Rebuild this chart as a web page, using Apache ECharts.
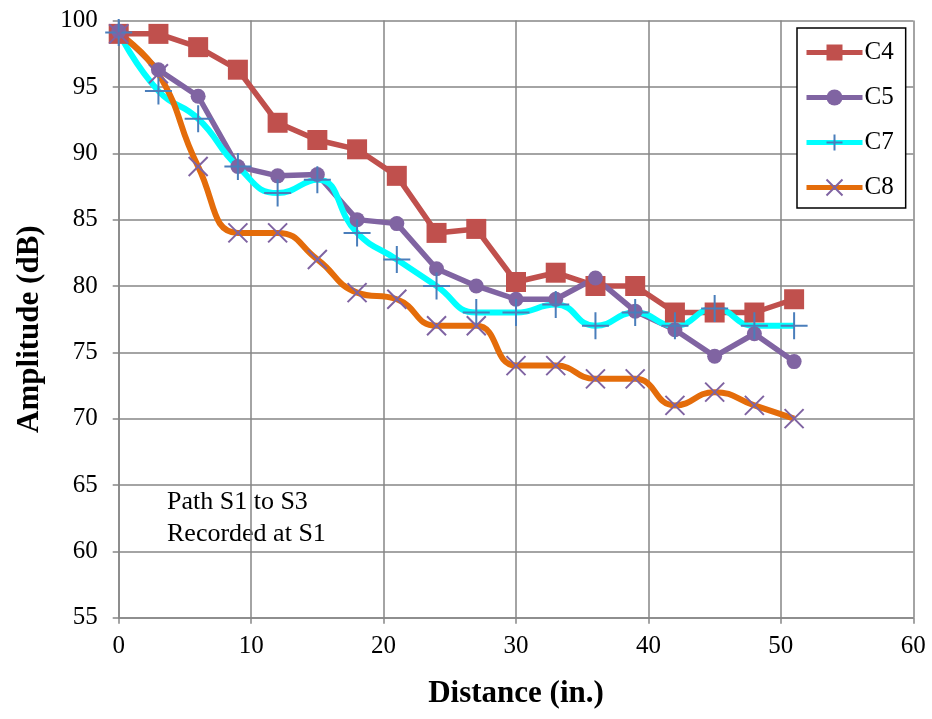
<!DOCTYPE html>
<html>
<head>
<meta charset="utf-8">
<script src="https://cdn.jsdelivr.net/npm/echarts@6/dist/echarts.min.js"></script>
<style>
  html, body { margin: 0; padding: 0; background: #fff; }
  #chart { width: 932px; height: 719px; }
</style>
</head>
<body>
<div id="chart"></div>
<script>
// distance along the path (in.)
var distance = [0, 3, 6, 9, 12, 15, 18, 21, 24, 27, 30, 33, 36, 39, 42, 45, 48, 51]

// amplitude readings (dB)
var c4 = [99, 99, 98, 96.3, 92.3, 91, 90.3, 88.3, 84, 84.3, 80.3, 81, 80, 80, 78, 78, 78, 79]
var c5 = [99.2, 96.3, 94.3, 89, 88.3, 88.4, 85, 84.7, 81.3, 80, 79, 79, 80.6, 78.1, 76.7, 74.7, 76.4, 74.3]
var c7 = [99.1, 94.7, 92.6, 89, 87, 88, 84, 82, 80, 78, 78, 78.6, 77, 78, 77, 78.3, 77, 77]
var c8 = [99, 96, 89, 84, 84, 82, 79.5, 79, 77, 77, 74, 74, 73, 73, 71, 72, 71, 70]

var xTicks = { min: 0, max: 60, interval: 10 }
var yTicks = { min: 55, max: 100, interval: 5 }

function pairs (ys) {
  return distance.map(function (d, i) { return [d, ys[i]] })
}

var gray = '#868686'
var font = '"Liberation Serif", "Times New Roman", serif'

var chart = echarts.init(document.getElementById('chart'))

var option = {
  animation: false,
  backgroundColor: '#fff',
  textStyle: { fontFamily: font, color: '#000' },
  grid: { left: 118.7, right: 18.7, top: 20.6, bottom: 101.3, containLabel: false },
  xAxis: {
    type: 'value',
    min: xTicks.min,
    max: xTicks.max,
    interval: xTicks.interval,
    name: 'Distance (in.)',
    nameLocation: 'middle',
    nameGap: 61,
    nameTextStyle: { fontFamily: font, fontWeight: 'bold', fontSize: 31, color: '#000' },
    axisLine: { lineStyle: { color: gray, width: 1.5 } },
    axisTick: { show: true, length: 6, lineStyle: { color: gray, width: 1.5 } },
    axisLabel: { fontFamily: font, fontSize: 25, color: '#000', margin: 16 },
    splitLine: { show: true, lineStyle: { color: gray, width: 1.5 } }
  },
  yAxis: {
    type: 'value',
    min: yTicks.min,
    max: yTicks.max,
    interval: yTicks.interval,
    name: 'Amplitude (dB)',
    nameLocation: 'middle',
    nameGap: 73,
    nameRotate: 90,
    // nudge title a bit below the plot's middle, as in the original
    nameTextStyle: { fontFamily: font, fontWeight: 'bold', fontSize: 31, color: '#000', padding: [0, 20, 0, 0] },
    axisLine: { show: true, lineStyle: { color: gray, width: 1.5 } },
    axisTick: { show: true, length: 6, lineStyle: { color: gray, width: 1.5 } },
    axisLabel: { fontFamily: font, fontSize: 25, color: '#000', margin: 21 },
    splitLine: { show: true, lineStyle: { color: gray, width: 1.5 } }
  },
  legend: {
    orient: 'vertical',
    left: 797,
    top: 28,
    backgroundColor: '#fff',
    borderColor: '#000',
    borderWidth: 1.5,
    padding: [12, 12, 8, 7],
    itemWidth: 56,
    itemHeight: 20,
    itemGap: 20,
    lineStyle: { width: 5 },
    textStyle: { fontFamily: font, fontSize: 25, color: '#000', padding: [0, 0, 0, -3] },
    data: ['C4', 'C5', 'C7', 'C8']
  },
  graphic: [{
    type: 'text',
    left: 167,
    top: 486,
    style: {
      text: 'Path S1 to S3\nRecorded at S1',
      font: '26px ' + font,
      fill: '#000',
      lineHeight: 32
    }
  }],
  series: [
    {
      name: 'C4',
      type: 'line',
      data: pairs(c4),
      symbol: 'rect',
      symbolSize: 20,
      itemStyle: { color: '#C0504D' },
      lineStyle: { color: '#C0504D', width: 5.5 }
    },
    {
      name: 'C5',
      type: 'line',
      data: pairs(c5),
      symbol: 'circle',
      symbolSize: 15,
      itemStyle: { color: '#8064A2' },
      lineStyle: { color: '#8064A2', width: 5.5 }
    },
    {
      name: 'C7',
      type: 'line',
      data: pairs(c7),
      smooth: 0.5,
      symbol: 'path://M0,-1L0,1M-1,0L1,0',
      symbolSize: 27,
      itemStyle: { color: 'rgba(0,0,0,0)', borderColor: '#4A7EBB', borderWidth: 2 },
      lineStyle: { color: '#00FFFF', width: 6 }
    },
    {
      name: 'C8',
      type: 'line',
      data: pairs(c8),
      smooth: 0.5,
      symbol: 'path://M-1,-1L1,1M-1,1L1,-1',
      symbolSize: 19,
      itemStyle: { color: 'rgba(0,0,0,0)', borderColor: '#7F63A2', borderWidth: 2 },
      lineStyle: { color: '#E46C0A', width: 6 }
    }
  ]
}

chart.setOption(option)
</script>
</body>
</html>
